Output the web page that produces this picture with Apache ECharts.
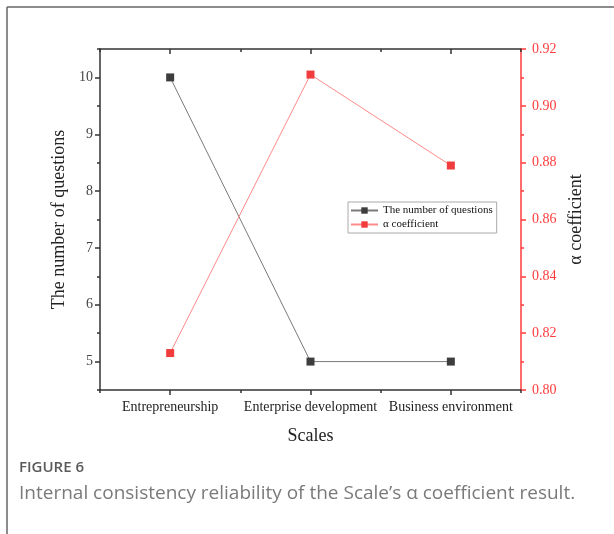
<!DOCTYPE html>
<html>
<head>
<meta charset="utf-8">
<script src="https://cdn.jsdelivr.net/npm/echarts@6/dist/echarts.min.js"></script>
<style>
  html, body { margin: 0; padding: 0; background: #fff; }
  #chart { width: 614px; height: 534px; }
</style>
</head>
<body>
<div id="chart"></div>
<script>
// data
const scales = ['Entrepreneurship', 'Enterprise development', 'Business environment'];
const questionCounts = [10, 5, 5];
const alphaValues = [0.813, 0.911, 0.879];
const scalePositions = [1, 2, 3];
const questionTicks = [5, 6, 7, 8, 9, 10];

const SERIF = 'Liberation Serif';
const INK = '#333';
const RED = '#ff3b3b';

const chart = echarts.init(document.getElementById('chart'));

const tickStyle = (color, len, inside) => ({
  inside: !!inside,
  length: len,
  lineStyle: { color: color, width: 1.5 }
});

chart.setOption({
  animation: false,
  backgroundColor: '#fff',
  grid: { left: 100, right: 93, top: 49, bottom: 144 },
  graphic: [
    { type: 'line', shape: { x1: 7, y1: 7, x2: 614, y2: 7 }, style: { stroke: '#666', lineWidth: 1.5 } },
    { type: 'line', shape: { x1: 7, y1: 7, x2: 7, y2: 534 }, style: { stroke: '#666', lineWidth: 1.5 } },
    { type: 'text', left: 19, top: 460, style: { text: 'FIGURE 6', font: '600 15px "Open Sans"', fill: '#5a5a5a' } },
    { type: 'text', left: 19, top: 484, style: { text: 'Internal consistency reliability of the Scale\u2019s \u03b1 coefficient result.', font: '19px "Open Sans"', fill: '#7a7a7a' } }
  ],
  legend: {
    orient: 'vertical',
    left: 348,
    top: 202,
    itemWidth: 27,
    itemHeight: 8,
    itemGap: 3,
    padding: [3, 4, 3, 2],
    borderColor: '#aaa',
    borderWidth: 1,
    textStyle: { fontFamily: SERIF, fontSize: 11, color: '#111' },
    data: ['The number of questions', '\u03b1 coefficient']
  },
  xAxis: [
    {
      type: 'value', position: 'bottom', min: 0.5, max: 3.5, interval: 0.5,
      axisLine: { lineStyle: { color: INK, width: 1.5 } },
      axisTick: tickStyle(INK, 3),
      axisLabel: { show: false },
      splitLine: { show: false }
    },
    {
      type: 'value', position: 'bottom', min: 0.5, max: 3.5,
      axisLine: { show: false },
      axisTick: Object.assign(tickStyle(INK, 5), { customValues: scalePositions }),
      axisLabel: {
        customValues: scalePositions,
        formatter: v => scales[v - 1],
        fontFamily: SERIF, fontSize: 14, color: '#222', margin: 10
      },
      splitLine: { show: false },
      name: 'Scales',
      nameLocation: 'middle',
      nameGap: 37,
      nameTextStyle: { fontFamily: SERIF, fontSize: 18, color: '#222' }
    },
    {
      type: 'value', position: 'top', min: 0.5, max: 3.5, interval: 0.5,
      axisLine: { lineStyle: { color: INK, width: 1.5 } },
      axisTick: tickStyle(INK, 3, true),
      axisLabel: { show: false },
      splitLine: { show: false }
    },
    {
      type: 'value', position: 'top', min: 0.5, max: 3.5,
      axisLine: { show: false },
      axisTick: Object.assign(tickStyle(INK, 5, true), { customValues: scalePositions }),
      axisLabel: { show: false },
      splitLine: { show: false }
    }
  ],
  yAxis: [
    {
      type: 'value', position: 'left', min: 4.5, max: 10.5, interval: 0.5,
      axisLine: { show: true, lineStyle: { color: INK, width: 1.5 } },
      axisTick: tickStyle(INK, 3),
      axisLabel: { show: false },
      splitLine: { show: false }
    },
    {
      type: 'value', position: 'left', min: 4.5, max: 10.5,
      axisLine: { show: false },
      axisTick: Object.assign(tickStyle(INK, 5), { customValues: questionTicks }),
      axisLabel: {
        customValues: questionTicks,
        fontFamily: SERIF, fontSize: 14, color: '#444', margin: 7
      },
      splitLine: { show: false },
      name: 'The number of questions',
      nameLocation: 'middle',
      nameGap: 26,
      nameTextStyle: { fontFamily: SERIF, fontSize: 18, color: '#222' }
    },
    {
      type: 'value', position: 'right', min: 0.8, max: 0.92, interval: 0.02,
      axisLine: { show: true, lineStyle: { color: RED, width: 1.5 } },
      axisTick: tickStyle(RED, 5),
      minorTick: { show: true, splitNumber: 2, length: 3, lineStyle: { color: RED, width: 1.5 } },
      axisLabel: {
        formatter: v => v.toFixed(2),
        fontFamily: SERIF, fontSize: 14, color: RED, margin: 11
      },
      splitLine: { show: false },
      name: '\u03b1 coefficient',
      nameLocation: 'middle',
      nameGap: 42,
      nameTextStyle: { fontFamily: SERIF, fontSize: 18, color: '#222' }
    }
  ],
  series: [
    {
      name: 'The number of questions',
      type: 'line',
      xAxisIndex: 1,
      yAxisIndex: 1,
      symbol: 'rect',
      symbolSize: 8,
      lineStyle: { color: '#7a7a7a', width: 1 },
      itemStyle: { color: '#3d3d3d' },
      data: questionCounts.map((v, i) => [scalePositions[i], v])
    },
    {
      name: '\u03b1 coefficient',
      type: 'line',
      xAxisIndex: 1,
      yAxisIndex: 2,
      symbol: 'rect',
      symbolSize: 8,
      lineStyle: { color: '#ff8a8a', width: 1 },
      itemStyle: { color: '#f03c3c' },
      data: alphaValues.map((v, i) => [scalePositions[i], v])
    }
  ]
});
</script>
</body>
</html>
